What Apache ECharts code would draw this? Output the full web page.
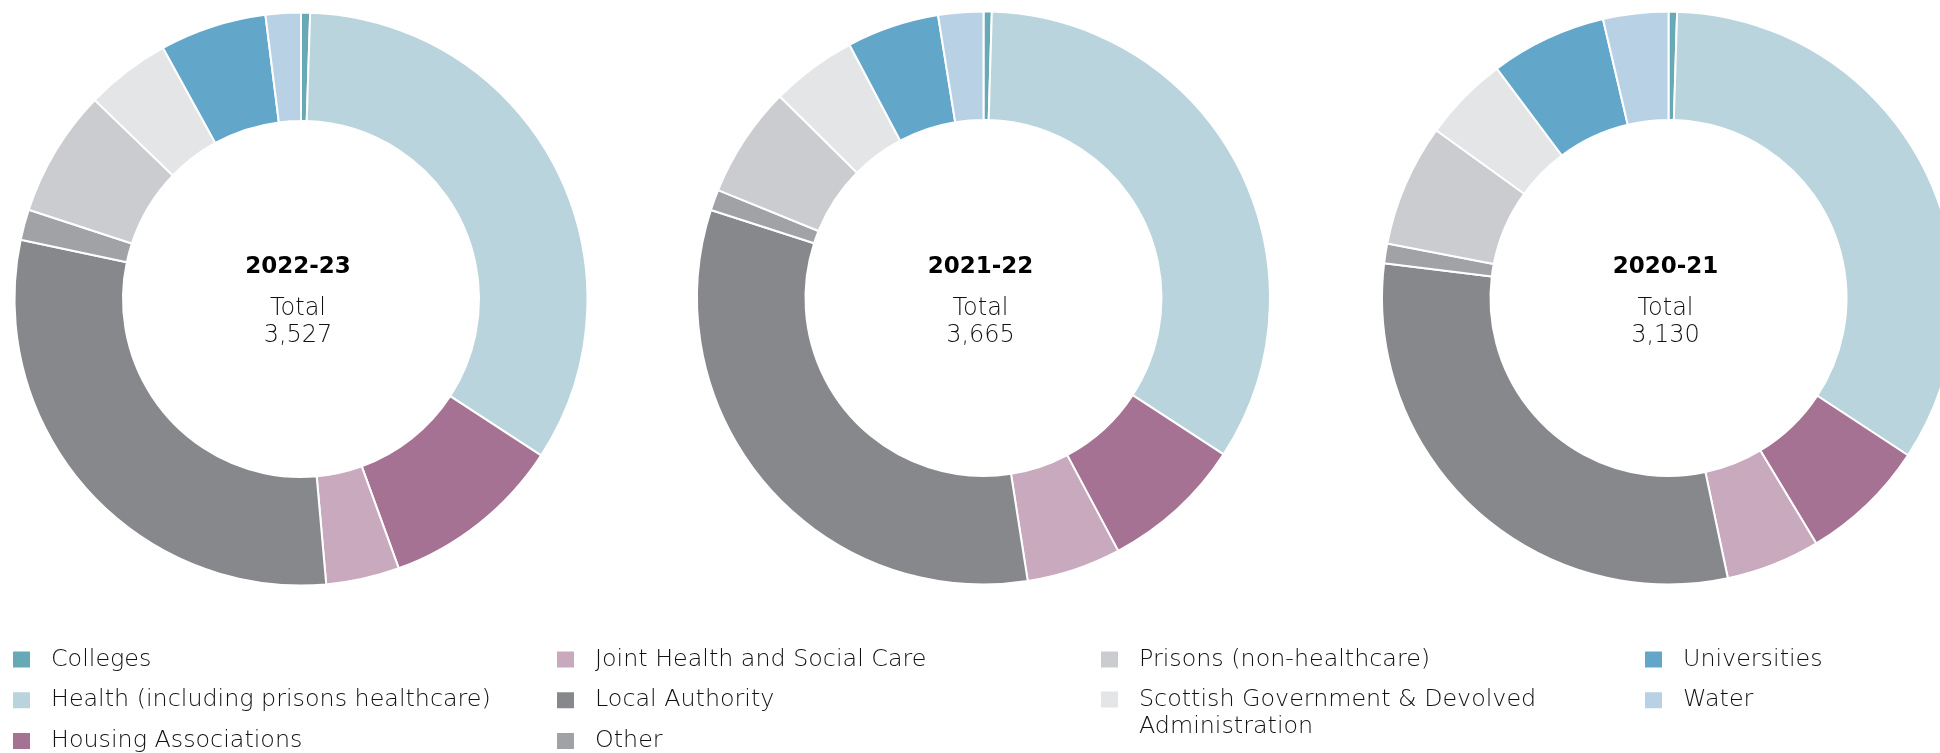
<!DOCTYPE html>
<html>
<head>
<meta charset="utf-8">
<title>Organisations by sector</title>
<script src="https://cdn.jsdelivr.net/npm/echarts@6/dist/echarts.min.js"></script>
<style>
  html, body { margin: 0; padding: 0; background: #fff; }
  #chart { width: 1940px; height: 753px; }
</style>
</head>
<body>
<div id="chart"></div>
<script>
// Sectors, in the order the slices run clockwise from twelve o'clock
const categories = [
  'Colleges',
  'Health (including prisons healthcare)',
  'Housing Associations',
  'Joint Health and Social Care',
  'Local Authority',
  'Other',
  'Prisons (non-healthcare)',
  'Scottish Government & Devolved Administration',
  'Universities',
  'Water'
];

const years = ['2022-23', '2021-22', '2020-21'];

// Counts per sector for each year
const values2223 = [18, 1188, 362, 146, 1048, 61, 253, 169, 212, 70];
const values2122 = [17, 1236, 294, 195, 1189, 43, 230, 177, 191, 93];
const values2021 = [15, 1057, 223, 166, 947, 35, 216, 151, 205, 115];

const yearValues = [values2223, values2122, values2021];

const colors = ['#68a9b6', '#b9d4dc', '#a67293', '#c9a9be', '#87888c',
                '#a1a2a6', '#cbccd0', '#e4e5e7', '#62a7ca', '#b9d1e5'];

// Legend columns (the long sector name gets its own block so it can wrap)
const legendColumns = [
  [categories[0], categories[1], categories[2]],
  [categories[3], categories[4], categories[5]],
  [categories[6]],
  [categories[7]],
  [categories[8], categories[9]]
];

const centers = [[301, 299], [983.5, 298], [1668.5, 298]];
const fontFamily = '"DejaVu Sans", sans-serif';

const chart = echarts.init(document.getElementById('chart'), null, { renderer: 'canvas' });

const series = years.map((y, i) => ({
  name: y,
  type: 'pie',
  center: centers[i],
  radius: [178, 286.5],
  startAngle: 90,
  clockwise: true,
  avoidLabelOverlap: false,
  silent: true,
  label: { show: false },
  labelLine: { show: false },
  emphasis: { disabled: true },
  itemStyle: { borderColor: '#ffffff', borderWidth: 2 },
  animation: false,
  data: categories.map((c, k) => ({ name: c, value: yearValues[i][k] }))
}));

const titles = years.map((y, i) => {
  const total = yearValues[i].reduce((a, b) => a + b, 0);
  return {
    text: y,
    subtext: 'Total\n' + total.toLocaleString('en-US'),
    left: centers[i][0] - 3,
    top: 252.5,
    textAlign: 'center',
    padding: 0,
    itemGap: 12.5,
    textStyle: {
      fontFamily: fontFamily,
      fontWeight: 'bold',
      fontSize: 23,
      lineHeight: 30,
      color: '#000'
    },
    subtextStyle: {
      fontFamily: fontFamily,
      fontWeight: 200,
      fontSize: 24,
      lineHeight: 27,
      color: '#111'
    }
  };
});

const legendLeft = [11, 555, 1099, 1099, 1643];
const legendTop = [646, 646, 646, 659, 646];

// A leading blank line keeps the first line of the wrapped name level with its swatch
const wrapName = name => name === categories[7]
  ? '\nScottish Government & Devolved\nAdministration'
  : name;

const legends = legendColumns.map((col, j) => ({
  orient: 'vertical',
  left: legendLeft[j],
  top: legendTop[j],
  height: 200,
  padding: 0,
  itemGap: 13.7,
  itemWidth: 19,
  itemHeight: 18,
  icon: 'rect',
  selectedMode: false,
  formatter: wrapName,
  textStyle: {
    fontFamily: fontFamily,
    fontWeight: 200,
    fontSize: 23.8,
    lineHeight: 27,
    color: '#111',
    padding: [0, 0, 0, 15]
  },
  data: col
}));

chart.setOption({
  color: colors,
  animation: false,
  title: titles,
  legend: legends,
  series: series
});
</script>
</body>
</html>
